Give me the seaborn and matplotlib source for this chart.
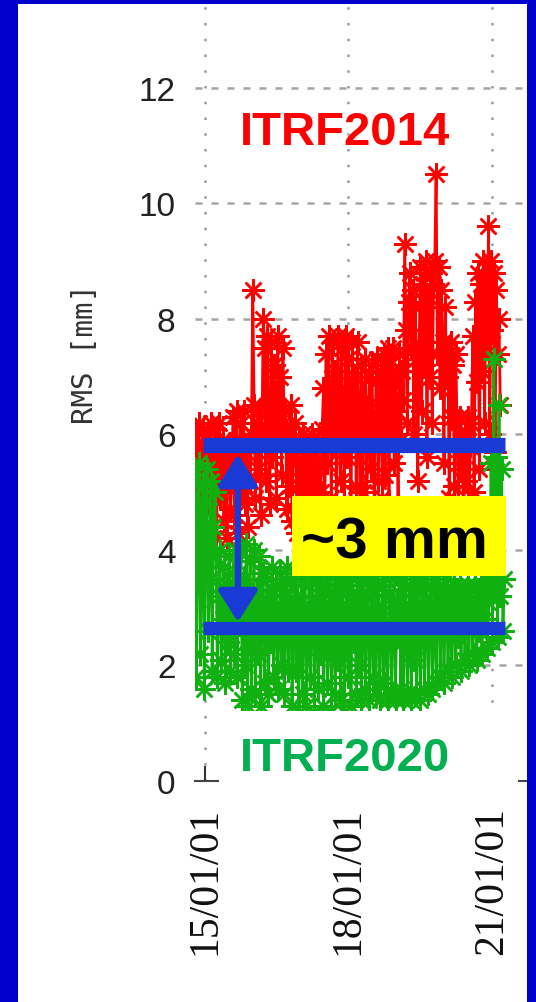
import numpy as np
import pandas as pd
import matplotlib
matplotlib.use("Agg")
import matplotlib.pyplot as plt
import matplotlib.dates as mdates
from matplotlib.patches import Rectangle, FancyArrowPatch
import seaborn as sns

sns.set_theme(style="white")
plt.rcParams["font.family"] = ["DejaVu Sans"]

# ---------------- data ----------------
first_epoch = "2014-10-18"
sampling_days = 10

rms_itrf2014 = [
    6.1, 4.3, 5.8, 6.2, 4.6, 5.2, 6.1, 4.1, 5.9, 6.0,
    4.8, 5.5, 6.2, 4.4, 5.7, 6.1, 4.2, 5.0, 6.2, 4.9,
    5.6, 5.9, 4.5, 5.7, 4.2, 5.6, 5.8, 4.7, 5.3, 6.3,
    4.6, 5.9, 6.4, 4.3, 5.8, 6.2, 5.0, 6.4, 4.8, 5.7,
    4.4, 5.9, 5.2, 6.0, 8.5, 6.5, 4.9, 6.2, 5.4, 6.4,
    4.6, 6.0, 8.0, 7.5, 5.2, 7.7, 6.1, 4.8, 7.6, 5.6,
    7.2, 6.6, 4.9, 7.7, 5.9, 7.0, 5.3, 7.5, 6.2, 6.4,
    4.7, 6.0, 5.1, 6.5, 4.5, 5.8, 6.2, 5.5, 4.3, 5.9,
    4.8, 5.2, 6.0, 4.2, 5.6, 4.9, 5.8, 4.4, 5.3, 6.0,
    4.6, 5.7, 4.1, 5.4, 5.9, 4.5, 5.0, 6.1, 6.8, 4.6,
    7.4, 5.5, 7.7, 6.2, 4.9, 7.6, 5.8, 7.1, 4.4, 7.7,
    6.5, 5.2, 7.5, 6.0, 4.8, 7.7, 5.6, 7.3, 6.7, 4.5,
    7.6, 5.9, 7.0, 5.1, 7.6, 6.3, 4.7, 7.2, 5.0, 6.6,
    7.3, 4.6, 6.1, 7.0, 5.4, 7.2, 5.8, 4.5, 6.9, 7.3,
    5.2, 6.4, 7.1, 4.9, 7.4, 5.3, 6.8, 7.5, 4.8, 7.2,
    6.0, 7.5, 5.5, 7.0, 6.4, 4.7, 7.4, 5.9, 7.1, 6.6,
    9.3, 7.8, 6.2, 8.3, 8.8, 7.5, 8.5, 6.0, 8.2, 7.3,
    5.2, 7.5, 8.9, 6.4, 8.6, 7.2, 9.0, 5.6, 8.4, 7.0,
    8.8, 6.2, 8.6, 9.0, 10.5, 7.4, 8.9, 6.8, 8.5, 7.6,
    5.5, 8.2, 7.0, 7.5, 4.9, 7.6, 6.3, 7.2, 5.1, 7.4,
    6.2, 4.6, 6.3, 5.4, 5.9, 4.3, 6.0, 5.2, 6.3, 4.7,
    5.8, 6.2, 7.7, 5.0, 8.3, 6.9, 8.8, 5.4, 8.6, 7.1,
    9.0, 6.2, 8.7, 7.5, 9.6, 6.0, 9.0, 7.8, 8.8, 5.7,
    8.5, 7.4, 8.0, 6.5,
]

rms_itrf2020 = [
    5.3, 1.8, 4.6, 5.5, 2.2, 3.9, 5.1, 1.6, 4.8, 5.4,
    2.6, 3.5, 5.2, 1.9, 4.4, 5.0, 3.9, 1.8, 3.2, 4.0,
    2.1, 2.8, 3.7, 1.7, 3.4, 2.4, 3.9, 1.9, 3.0, 3.6,
    2.2, 4.0, 1.8, 3.3, 2.7, 4.0, 1.4, 3.5, 2.0, 4.1,
    1.3, 3.1, 3.8, 1.6, 2.7, 4.0, 1.5, 3.3, 2.2, 3.9,
    1.3, 3.6, 3.6, 1.7, 2.9, 3.5, 1.5, 3.2, 2.4, 3.7,
    1.8, 3.0, 3.4, 1.6, 2.6, 3.6, 2.0, 3.3, 1.5, 2.8,
    3.7, 1.9, 3.1, 3.5, 1.3, 2.9, 3.6, 1.9, 3.2, 1.2,
    2.6, 3.5, 1.5, 3.0, 3.6, 1.3, 2.4, 3.4, 1.8, 3.1,
    3.6, 1.2, 2.8, 3.5, 1.6, 3.3, 2.2, 3.6, 1.3, 3.0,
    3.4, 1.7, 2.6, 3.6, 1.2, 3.2, 2.9, 1.5, 3.5, 2.1,
    3.6, 1.4, 3.0, 3.4, 1.2, 2.7, 3.6, 1.8, 3.3, 1.3,
    3.5, 2.4, 3.1, 1.5, 3.6, 2.0, 3.4, 1.4, 2.9, 3.6,
    1.6, 3.2, 3.5, 1.4, 2.6, 3.6, 1.8, 3.3, 1.5, 3.0,
    3.6, 1.4, 2.8, 3.4, 1.7, 3.5, 2.3, 1.4, 3.2, 3.6,
    1.5, 2.9, 3.5, 1.4, 3.1, 2.5, 3.6, 1.6, 3.3, 1.4,
    3.0, 3.6, 1.5, 2.7, 3.4, 1.4, 3.5, 2.1, 3.2, 1.5,
    3.6, 2.8, 1.4, 3.3, 3.5, 1.6, 2.9, 3.6, 1.5, 3.1,
    3.4, 1.6, 2.6, 3.5, 1.7, 3.2, 3.6, 1.8, 2.9, 3.4,
    1.7, 3.1, 3.5, 1.9, 2.7, 3.3, 1.8, 3.0, 3.4, 2.0,
    3.2, 2.5, 3.4, 1.9, 3.0, 3.3, 2.1, 2.8, 3.4, 2.0,
    3.1, 3.3, 2.2, 2.9, 3.4, 2.1, 3.2, 2.6, 3.4, 2.2,
    3.3, 2.8, 3.5, 2.3, 3.1, 3.4, 5.5, 2.4, 7.3, 3.3,
    5.6, 2.5, 6.5, 3.2, 5.4, 2.6, 3.5,
]

tick_dates = ["2015-01-01", "2018-01-01", "2021-01-01"]
tick_labels = ["15/01/01", "18/01/01", "21/01/01"]
y_ticks = [0, 2, 4, 6, 8, 10, 12]
y_label = "RMS [mm]"
level_itrf2014 = 5.82
level_itrf2020 = 2.65
arrow_top = 5.66
arrow_bottom = 2.75
gap_label = "~3 mm"
label_2014 = "ITRF2014"
label_2020 = "ITRF2020"

df14 = pd.DataFrame({
    "date": pd.date_range(first_epoch, periods=len(rms_itrf2014), freq=f"{sampling_days}D"),
    "rms": rms_itrf2014,
})
df20 = pd.DataFrame({
    "date": pd.date_range(first_epoch, periods=len(rms_itrf2020), freq=f"{sampling_days}D"),
    "rms": rms_itrf2020,
})

# ---------------- layout ----------------
W, H = 536, 1003
fig = plt.figure(figsize=(W / 100, H / 100), dpi=100)
fig.patch.set_facecolor("white")


def fx(px):
    return px / W


def fy(py):
    return 1 - py / H


ax = fig.add_axes([fx(195), fy(782), fx(527) - fx(195), fy(5) - fy(782)])
ax.set_facecolor("white")

RED = "#ff0000"
GREEN = "#10b010"
BLUE_BAR = "#1a3ad6"
ast = (8, 2, 0)

sns.lineplot(data=df14, x="date", y="rms", ax=ax, color=RED, lw=2.0,
             marker=ast, markersize=16, markeredgewidth=1.8,
             markeredgecolor=RED, estimator=None, sort=False, zorder=3)
sns.lineplot(data=df20, x="date", y="rms", ax=ax, color=GREEN, lw=2.0,
             marker=ast, markersize=16, markeredgewidth=1.8,
             markeredgecolor=GREEN, estimator=None, sort=False, zorder=4)

ax.set_xlim(mdates.date2num(pd.Timestamp("2014-10-17")),
            mdates.date2num(pd.Timestamp("2021-09-25")))
ax.set_ylim(0, 13.45)

ax.set_xticks(mdates.date2num(pd.to_datetime(tick_dates)))
ax.set_xticklabels(tick_labels, rotation=90, fontfamily="Liberation Serif",
                   fontsize=30, color="#111111")
ax.set_yticks(y_ticks)
ax.set_yticklabels([str(v) for v in y_ticks], fontfamily="Liberation Sans",
                   fontsize=24, color="#222222")
ax.tick_params(axis="x", direction="in", length=11, width=1.5,
               color="#333333", pad=18, bottom=True)
ax.tick_params(axis="y", length=0, pad=14, left=False)

for s in ["left", "top", "right"]:
    ax.spines[s].set_visible(False)
ax.spines["bottom"].set_color("#444444")
ax.spines["bottom"].set_linewidth(1.5)

ax.grid(False)
ax.xaxis.grid(True, linestyle=(0, (1, 5.3)), linewidth=1.8, color="#9a9a9a")
ax.yaxis.grid(True, linestyle=(0, (2.8, 3.6)), linewidth=1.8, color="#a5a5a5")
ax.set_axisbelow(True)

ax.set_xlabel("")
ax.set_ylabel(y_label, fontfamily="DejaVu Sans Mono", fontsize=21, color="#333333")
ax.yaxis.set_label_coords((99 - 195) / 332, (782 - 354) / 777)

# blue level bars
x_bar0 = mdates.date2num(pd.Timestamp("2014-12-17"))
x_bar1 = mdates.date2num(pd.Timestamp("2021-04-11"))
ax.hlines(level_itrf2014, x_bar0, x_bar1, colors=BLUE_BAR, lw=11, zorder=6)
ax.hlines(level_itrf2020, x_bar0, x_bar1, colors=BLUE_BAR, lw=9.5, zorder=6)

# double arrow
x_arr = mdates.date2num(pd.Timestamp("2015-09-10"))
arr = FancyArrowPatch((x_arr, arrow_top), (x_arr, arrow_bottom),
                      arrowstyle="<|-|>,head_length=0.95,head_width=0.6",
                      mutation_scale=20, lw=4.5, color=BLUE_BAR,
                      shrinkA=0, shrinkB=0, zorder=7)
ax.add_patch(arr)

# yellow label box
ax.add_patch(Rectangle((fx(292), fy(577)), fx(506) - fx(292), (577 - 497) / H,
                       transform=fig.transFigure, facecolor="#ffff00",
                       edgecolor="none", clip_on=False, zorder=8))
ax.text(fx(394), fy(559), gap_label, transform=fig.transFigure, ha="center",
        va="baseline", fontsize=42, fontweight="bold",
        fontfamily="Liberation Sans", color="black", zorder=9)

# white box with ITRF2020 label
ax.add_patch(Rectangle((fx(219), fy(792)), fx(518) - fx(219), (792 - 712) / H,
                       transform=fig.transFigure, facecolor="white",
                       edgecolor="none", clip_on=False, zorder=8))
ax.text(fx(345), fy(771), label_2020, transform=fig.transFigure, ha="center",
        va="baseline", fontsize=34, fontweight="bold",
        fontfamily="Liberation Sans", color="#00b050", zorder=9)
ax.text(fx(345), fy(145), label_2014, transform=fig.transFigure, ha="center",
        va="baseline", fontsize=34, fontweight="bold",
        fontfamily="Liberation Sans", color="#ff0000", zorder=9)

# blue slide frame
FRAME = "#0000cc"
for rect in [(0, 0, fx(18), 1), (fx(527), 0, 1 - fx(527), 1), (0, fy(5), 1, 5 / H)]:
    fig.patches.append(Rectangle(rect[:2], rect[2], rect[3],
                                 transform=fig.transFigure, facecolor=FRAME,
                                 edgecolor="none", zorder=20))

fig.savefig("out.png", dpi=100, facecolor="white")
